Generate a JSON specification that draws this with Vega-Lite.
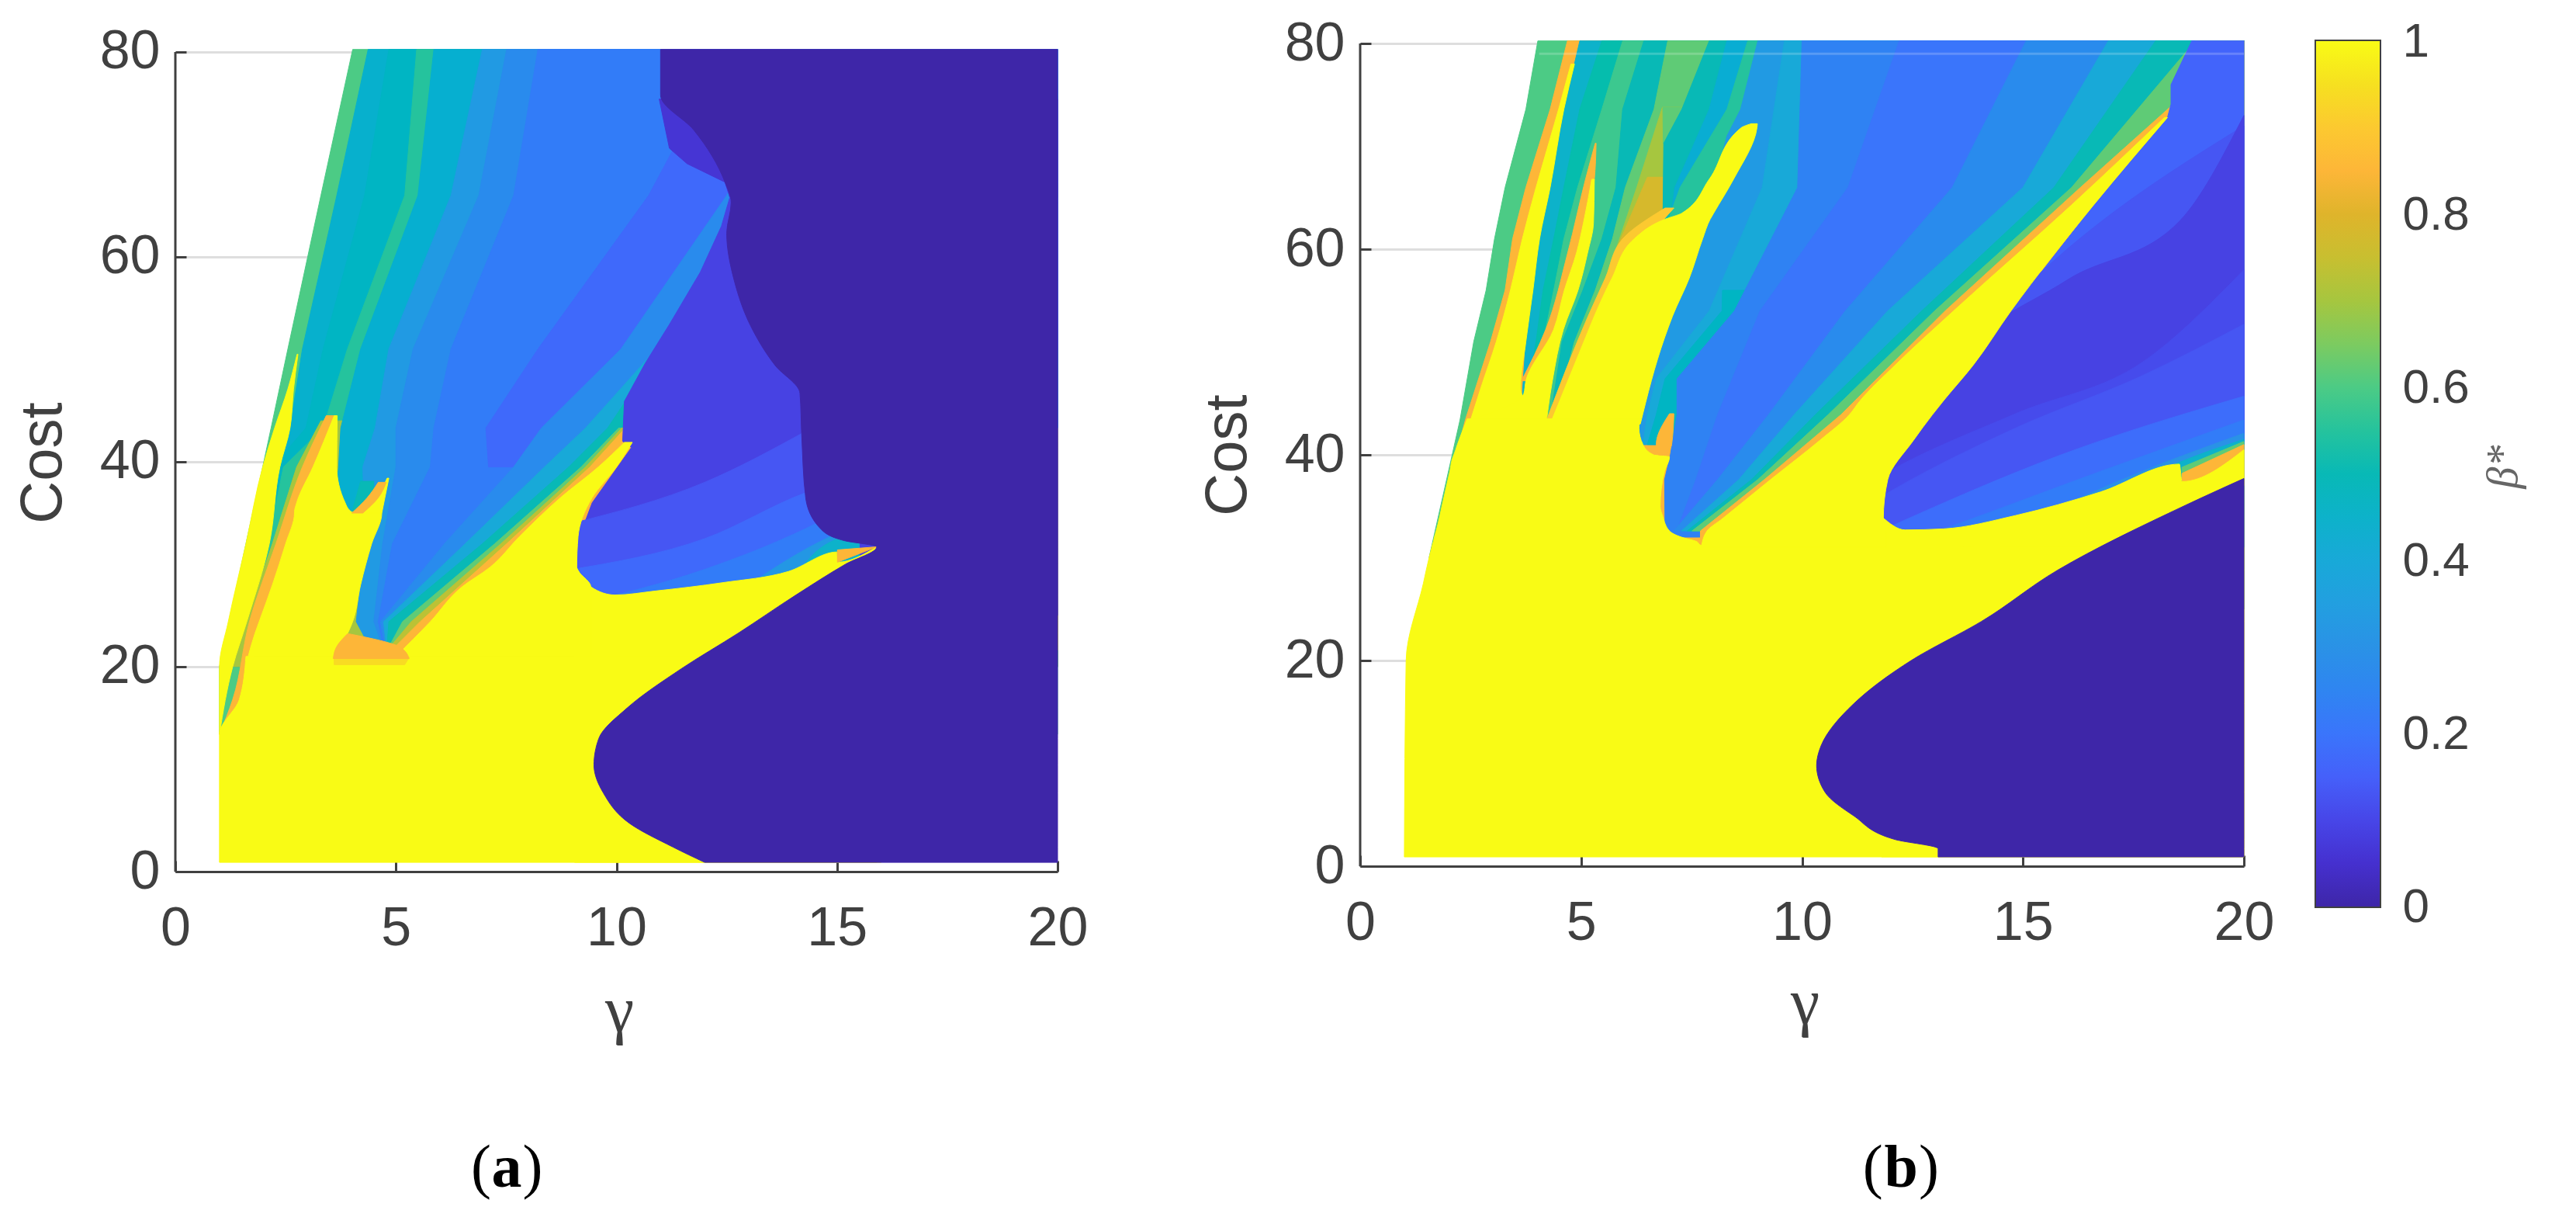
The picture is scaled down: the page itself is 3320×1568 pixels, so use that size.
{"$schema":"https://vega.github.io/schema/vega-lite/v6.json","padding":{"left":17,"top":20,"right":5,"bottom":5},"background":"white","bounds":"flush","spacing":390,
"datasets":{
"a1":[
{"p":1,"b":0.6,"c":80.25,"g":4.02},{"p":1,"b":0.6,"c":66,"g":3.3},{"p":1,"b":0.6,"c":51,"g":2.55},{"p":1,"b":0.6,"c":43.3,"g":2.17},{"p":1,"b":0.6,"c":39.5,"g":1.98},{"p":1,"b":0.6,"c":32,"g":1.6},{"p":1,"b":0.6,"c":24.4,"g":1.22},{"p":1,"b":0.6,"c":20,"g":1},{"p":1,"b":0.6,"c":13.4,"g":1},
{"p":2,"b":0.44,"c":80.25,"g":4.37},{"p":2,"b":0.44,"c":66,"g":3.66},{"p":2,"b":0.44,"c":51,"g":2.88},{"p":2,"b":0.44,"c":43.3,"g":2.6},{"p":2,"b":0.44,"c":39.5,"g":2.0},{"p":2,"b":0.44,"c":32,"g":1.7},{"p":2,"b":0.44,"c":24.4,"g":1.3},{"p":2,"b":0.44,"c":20,"g":1.15},
{"p":3,"b":0.47,"c":80.25,"g":4.84},{"p":3,"b":0.47,"c":66,"g":4.29},{"p":3,"b":0.47,"c":51,"g":3.35},{"p":3,"b":0.47,"c":43.3,"g":2.96},{"p":3,"b":0.47,"c":39.5,"g":2.2},{"p":3,"b":0.47,"c":32,"g":1.9},{"p":3,"b":0.47,"c":24.4,"g":1.4},{"p":3,"b":0.47,"c":20,"g":1.2},
{"p":4,"b":0.55,"c":80.25,"g":5.47},{"p":4,"b":0.55,"c":66,"g":5.2},{"p":4,"b":0.55,"c":51,"g":3.9},{"p":4,"b":0.55,"c":43.3,"g":3.35},{"p":4,"b":0.55,"c":39.5,"g":2.45},{"p":4,"b":0.55,"c":32,"g":2.1},{"p":4,"b":0.55,"c":24.4,"g":1.5},{"p":4,"b":0.55,"c":20,"g":1.25},
{"p":5,"b":0.7,"c":44,"g":3.3},{"p":5,"b":0.7,"c":39.5,"g":2.75},{"p":5,"b":0.7,"c":32,"g":2.2},{"p":5,"b":0.7,"c":24.4,"g":1.6},{"p":5,"b":0.7,"c":20,"g":1.3},
{"p":6,"b":0.43,"c":80.25,"g":5.86},{"p":6,"b":0.43,"c":66,"g":5.5},{"p":6,"b":0.43,"c":51,"g":4.2},{"p":6,"b":0.43,"c":43.3,"g":3.75},{"p":6,"b":0.43,"c":39.5,"g":3.7},{"p":6,"b":0.43,"c":35,"g":3.6},
{"p":7,"b":0.33,"c":80.25,"g":6.96},{"p":7,"b":0.33,"c":66,"g":6.25},{"p":7,"b":0.33,"c":51,"g":4.84},{"p":7,"b":0.33,"c":43.3,"g":4.53},{"p":7,"b":0.33,"c":39.5,"g":4.25},{"p":7,"b":0.33,"c":32,"g":4.3},{"p":7,"b":0.33,"c":24.4,"g":4.1},{"p":7,"b":0.33,"c":22,"g":4.4},
{"p":8,"b":0.27,"c":80.25,"g":7.51},{"p":8,"b":0.27,"c":66,"g":6.88},{"p":8,"b":0.27,"c":51,"g":5.39},{"p":8,"b":0.27,"c":43.3,"g":5.0},{"p":8,"b":0.27,"c":39.5,"g":5.0},{"p":8,"b":0.27,"c":32,"g":4.7},{"p":8,"b":0.27,"c":24.4,"g":4.5},{"p":8,"b":0.27,"c":22,"g":4.7},
{"p":9,"b":0.22,"c":80.25,"g":8.22},{"p":9,"b":0.22,"c":66,"g":7.67},{"p":9,"b":0.22,"c":51,"g":6.25},{"p":9,"b":0.22,"c":43.3,"g":5.86},{"p":9,"b":0.22,"c":39.5,"g":5.78},{"p":9,"b":0.22,"c":32,"g":4.92},{"p":9,"b":0.22,"c":24.4,"g":4.6},{"p":9,"b":0.22,"c":22,"g":4.72},
{"p":10,"b":0.17,"c":80.25,"g":12.5},{"p":10,"b":0.17,"c":66,"g":10.73},{"p":10,"b":0.17,"c":51,"g":8.22},{"p":10,"b":0.17,"c":43.3,"g":7.04},{"p":10,"b":0.17,"c":39.5,"g":7.1},
{"p":11,"b":0.27,"c":80.25,"g":14},{"p":11,"b":0.27,"c":66,"g":12.5},{"p":11,"b":0.27,"c":51,"g":10.1},{"p":11,"b":0.27,"c":43.3,"g":8.3},{"p":11,"b":0.27,"c":39.5,"g":7.67},{"p":11,"b":0.27,"c":32,"g":6.1},{"p":11,"b":0.27,"c":24.4,"g":4.65},{"p":11,"b":0.27,"c":22,"g":4.75},
{"p":12,"b":0.4,"c":51,"g":10.9},{"p":12,"b":0.4,"c":43.3,"g":9.3},{"p":12,"b":0.4,"c":39.5,"g":8.37},{"p":12,"b":0.4,"c":32,"g":6.57},{"p":12,"b":0.4,"c":24.4,"g":4.72},{"p":12,"b":0.4,"c":22,"g":4.78},
{"p":13,"b":0.5,"c":51,"g":11},{"p":13,"b":0.5,"c":43.3,"g":9.8},{"p":13,"b":0.5,"c":39.5,"g":8.92},{"p":13,"b":0.5,"c":32,"g":6.96},{"p":13,"b":0.5,"c":24.4,"g":4.84},{"p":13,"b":0.5,"c":22,"g":4.8},
{"p":14,"b":0.62,"c":43.3,"g":10.05},{"p":14,"b":0.62,"c":39.5,"g":9.2},{"p":14,"b":0.62,"c":32,"g":7.24},{"p":14,"b":0.62,"c":24.4,"g":5.15},{"p":14,"b":0.62,"c":22,"g":4.85},
{"p":15,"b":0.73,"c":43.3,"g":10.12},{"p":15,"b":0.73,"c":39.5,"g":9.3},{"p":15,"b":0.73,"c":32,"g":7.38},{"p":15,"b":0.73,"c":24.4,"g":5.35},{"p":15,"b":0.73,"c":22,"g":4.88},
{"p":16,"b":0.85,"c":43.3,"g":10.2},{"p":16,"b":0.85,"c":39.5,"g":9.4},{"p":16,"b":0.85,"c":32,"g":7.51},{"p":16,"b":0.85,"c":24.4,"g":5.55},{"p":16,"b":0.85,"c":21.6,"g":4.9},
{"p":17,"b":0.06,"c":75.4,"g":10.97},{"p":17,"b":0.06,"c":70.6,"g":11.2},{"p":17,"b":0.06,"c":69.1,"g":11.6},{"p":17,"b":0.06,"c":67.3,"g":12.46},{"p":17,"b":0.06,"c":65.8,"g":12.57},
{"p":18,"b":0.09,"c":65.8,"g":12.57},{"p":18,"b":0.09,"c":63,"g":12.38},{"p":18,"b":0.09,"c":58.5,"g":11.9},{"p":18,"b":0.09,"c":53.4,"g":11.2},{"p":18,"b":0.09,"c":49.6,"g":10.65},{"p":18,"b":0.09,"c":45.9,"g":10.18},{"p":18,"b":0.09,"c":42,"g":10.14},{"p":18,"b":0.09,"c":41.4,"g":10.34},{"p":18,"b":0.09,"c":36,"g":9.45},{"p":18,"b":0.09,"c":32,"g":9.1},{"p":18,"b":0.09,"c":25,"g":9.1}
],
"a2":[
{"p":1,"b":0.13,"g":9,"c":34,"d":25},{"p":1,"b":0.13,"g":12,"c":38,"d":25},{"p":1,"b":0.13,"g":14.3,"c":43,"d":25},
{"p":2,"b":0.17,"g":9,"c":29.5,"d":25},{"p":2,"b":0.17,"g":12,"c":32.5,"d":25},{"p":2,"b":0.17,"g":14.3,"c":37,"d":25},{"p":2,"b":0.17,"g":15,"c":38,"d":25},
{"p":3,"b":0.22,"g":9,"c":26,"d":25},{"p":3,"b":0.22,"g":12,"c":29.5,"d":25},{"p":3,"b":0.22,"g":14.3,"c":33.5,"d":25},{"p":3,"b":0.22,"g":15,"c":35,"d":25},
{"p":4,"b":0.32,"g":13,"c":28,"d":25},{"p":4,"b":0.32,"g":14.3,"c":31.5,"d":25},{"p":4,"b":0.32,"g":15.5,"c":34,"d":25},
{"p":5,"b":0.45,"g":14,"c":28.5,"d":25},{"p":5,"b":0.45,"g":14.6,"c":31.5,"d":25},{"p":5,"b":0.45,"g":15.5,"c":33,"d":25},
{"p":6,"b":1,"g":9.05,"c":30,"d":0.9},{"p":6,"b":1,"g":9.42,"c":27.8,"d":0.9},{"p":6,"b":1,"g":9.97,"c":27,"d":0.9},{"p":6,"b":1,"g":10.9,"c":27.4,"d":0.9},{"p":6,"b":1,"g":12.4,"c":28.2,"d":0.9},{"p":6,"b":1,"g":13.9,"c":29.3,"d":0.9},{"p":6,"b":1,"g":15,"c":31.2,"d":0.9},{"p":6,"b":1,"g":15.01,"c":30.2,"d":0.9},{"p":6,"b":1,"g":15.9,"c":31.7,"d":0.9},
{"p":7,"b":0.85,"g":15.01,"c":31.4,"d":30.2},{"p":7,"b":0.85,"g":15.9,"c":31.7,"d":31.7}
],
"a3":[
{"p":1,"b":1,"c":50.5,"g":2.76,"h":2.78},{"p":1,"b":1,"c":47.1,"g":2.55,"h":2.68},{"p":1,"b":1,"c":43.3,"g":2.25,"h":2.6},{"p":1,"b":1,"c":39.5,"g":1.98,"h":2.37},{"p":1,"b":1,"c":32,"g":1.6,"h":2.13},{"p":1,"b":1,"c":24.4,"g":1.2,"h":1.62},{"p":1,"b":1,"c":20,"g":1,"h":1.3},{"p":1,"b":1,"c":13.4,"g":1,"h":1},
{"p":2,"b":0.85,"c":44.5,"g":3.42,"h":3.65},{"p":2,"b":0.85,"c":39.5,"g":2.88,"h":3.15},{"p":2,"b":0.85,"c":32,"g":2.28,"h":2.55},{"p":2,"b":0.85,"c":24.4,"g":1.68,"h":1.95},{"p":2,"b":0.85,"c":16.8,"g":1.3,"h":1.5},{"p":2,"b":0.85,"c":13.4,"g":1,"h":1.05},
{"p":3,"b":0.5,"c":38.1,"g":4.2,"h":4.5},{"p":3,"b":0.5,"c":35,"g":4,"h":4.5},
{"p":4,"b":1,"c":44.5,"g":3.6,"h":3.67},{"p":4,"b":1,"c":39.5,"g":3.12,"h":3.66},{"p":4,"b":1,"c":36,"g":2.75,"h":3.85},{"p":4,"b":1,"c":35.1,"g":2.7,"h":4},{"p":4,"b":1,"c":35,"g":2.7,"h":4.68},{"p":4,"b":1,"c":32,"g":2.5,"h":4.45},{"p":4,"b":1,"c":28,"g":2.2,"h":4.2},{"p":4,"b":1,"c":24.4,"g":1.9,"h":4.02},{"p":4,"b":1,"c":23.2,"g":1.8,"h":3.9},{"p":4,"b":1,"c":21,"g":1.65,"h":3.6},
{"p":5,"b":1,"c":38.4,"g":4.8,"h":4.84},{"p":5,"b":1,"c":36.5,"g":4.55,"h":4.75},{"p":5,"b":1,"c":35,"g":4.2,"h":4.68},
{"p":6,"b":0.85,"c":38,"g":4.6,"h":4.78},{"p":6,"b":0.85,"c":36.5,"g":4.35,"h":4.6},{"p":6,"b":0.85,"c":35,"g":4,"h":4.25},
{"p":7,"b":1,"c":41.9,"g":10.18,"h":10.36},{"p":7,"b":1,"c":39.5,"g":9.59,"h":10},{"p":7,"b":1,"c":36.5,"g":8.73,"h":9.45},{"p":7,"b":1,"c":32.7,"g":7.8,"h":9.13},{"p":7,"b":1,"c":29.7,"g":7.13,"h":9.1},{"p":7,"b":1,"c":27.8,"g":6.5,"h":9.42},{"p":7,"b":1,"c":24.4,"g":5.78,"h":9.42},{"p":7,"b":1,"c":21,"g":5,"h":9.42},
{"p":8,"b":1,"c":21,"g":1.6,"h":16},{"p":8,"b":1,"c":16.8,"g":1.45,"h":16},{"p":8,"b":1,"c":13.4,"g":1,"h":16},{"p":8,"b":1,"c":0.9,"g":1,"h":16},
{"p":11,"b":0.94,"c":20.9,"g":3.6,"h":5.3},{"p":11,"b":0.94,"c":20.2,"g":3.6,"h":5.2},
{"p":9,"b":0.85,"c":23.2,"g":3.9,"h":3.95},{"p":9,"b":0.85,"c":21.9,"g":3.65,"h":5.1},{"p":9,"b":0.85,"c":20.8,"g":3.58,"h":5.3},
{"p":10,"b":0,"c":80.25,"g":11,"h":20},{"p":10,"b":0,"c":75.8,"g":11,"h":20},{"p":10,"b":0,"c":72.4,"g":11.75,"h":20},{"p":10,"b":0,"c":67.3,"g":12.46,"h":20},{"p":10,"b":0,"c":65.3,"g":12.6,"h":20},{"p":10,"b":0,"c":62.3,"g":12.5,"h":20},{"p":10,"b":0,"c":57.7,"g":12.67,"h":20},{"p":10,"b":0,"c":53.2,"g":13.05,"h":20},{"p":10,"b":0,"c":49.4,"g":13.6,"h":20},{"p":10,"b":0,"c":46.7,"g":14.16,"h":20},{"p":10,"b":0,"c":42.6,"g":14.2,"h":20},{"p":10,"b":0,"c":36.5,"g":14.29,"h":20},{"p":10,"b":0,"c":33.5,"g":14.62,"h":20},{"p":10,"b":0,"c":32.3,"g":15.17,"h":20},{"p":10,"b":0,"c":31.7,"g":15.9,"h":20},{"p":10,"b":0,"c":30,"g":15.19,"h":20},{"p":10,"b":0,"c":27,"g":14.07,"h":20},{"p":10,"b":0,"c":23.3,"g":12.77,"h":20},{"p":10,"b":0,"c":19.8,"g":11.47,"h":20},{"p":10,"b":0,"c":16,"g":10.25,"h":20},{"p":10,"b":0,"c":13,"g":9.6,"h":20},{"p":10,"b":0,"c":10.4,"g":9.49,"h":20},{"p":10,"b":0,"c":7.7,"g":9.7,"h":20},{"p":10,"b":0,"c":4.7,"g":10.3,"h":20},{"p":10,"b":0,"c":2.4,"g":11.28,"h":20},{"p":10,"b":0,"c":0.9,"g":12,"h":20}
],
"b1":[
{"p":1,"b":0.6,"c":80.25,"g":4.02},{"p":1,"b":0.6,"c":73.6,"g":3.75},{"p":1,"b":0.6,"c":66,"g":3.28},{"p":1,"b":0.6,"c":61,"g":3.04},{"p":1,"b":0.6,"c":56,"g":2.85},{"p":1,"b":0.6,"c":51,"g":2.57},{"p":1,"b":0.6,"c":43.4,"g":2.26},{"p":1,"b":0.6,"c":30,"g":1.56},
{"p":2,"b":0.85,"c":80.25,"g":4.69},{"p":2,"b":0.85,"c":73.6,"g":4.3},{"p":2,"b":0.85,"c":66,"g":3.75},{"p":2,"b":0.85,"c":61,"g":3.45},{"p":2,"b":0.85,"c":56,"g":3.28},{"p":2,"b":0.85,"c":51,"g":2.95},{"p":2,"b":0.85,"c":43.4,"g":2.38},{"p":2,"b":0.85,"c":30,"g":1.57},
{"p":3,"b":0.45,"c":80.25,"g":4.97},{"p":3,"b":0.45,"c":73.6,"g":4.61},{"p":3,"b":0.45,"c":66,"g":4.3},{"p":3,"b":0.45,"c":61,"g":4.06},{"p":3,"b":0.45,"c":56,"g":3.91},{"p":3,"b":0.45,"c":51,"g":3.75},{"p":3,"b":0.45,"c":43.4,"g":3.63},
{"p":4,"b":0.52,"c":80.25,"g":5.47},{"p":4,"b":0.52,"c":73.6,"g":4.97},{"p":4,"b":0.52,"c":66,"g":4.61},{"p":4,"b":0.52,"c":61,"g":4.38},{"p":4,"b":0.52,"c":56,"g":4.14},{"p":4,"b":0.52,"c":51,"g":3.98},{"p":4,"b":0.52,"c":43.4,"g":3.71},
{"p":5,"b":0.58,"c":80.25,"g":5.94},{"p":5,"b":0.58,"c":73.6,"g":5.47},{"p":5,"b":0.58,"c":66,"g":4.92},{"p":5,"b":0.58,"c":61,"g":4.61},{"p":5,"b":0.58,"c":56,"g":4.38},{"p":5,"b":0.58,"c":51,"g":4.14},{"p":5,"b":0.58,"c":43.4,"g":3.83},
{"p":6,"b":0.5,"c":80.25,"g":6.42},{"p":6,"b":0.5,"c":73.6,"g":5.94},{"p":6,"b":0.5,"c":66,"g":5.79},{"p":6,"b":0.5,"c":61,"g":5.47},{"p":6,"b":0.5,"c":56,"g":5.04},{"p":6,"b":0.5,"c":51,"g":4.57},{"p":6,"b":0.5,"c":43.4,"g":4.3},
{"p":7,"b":0.62,"c":80.25,"g":6.96},{"p":7,"b":0.62,"c":73.6,"g":6.65},{"p":7,"b":0.62,"c":66,"g":6},{"p":7,"b":0.62,"c":61,"g":5.71},{"p":7,"b":0.62,"c":56,"g":5.32},{"p":7,"b":0.62,"c":51,"g":4.85},{"p":7,"b":0.62,"c":43.4,"g":4.38},
{"p":8,"b":0.7,"c":73.8,"g":6.84},{"p":8,"b":0.7,"c":66,"g":6.26},{"p":8,"b":0.7,"c":61,"g":5.87},{"p":8,"b":0.7,"c":56,"g":5.47},{"p":8,"b":0.7,"c":51,"g":4.97},{"p":8,"b":0.7,"c":43.4,"g":4.4},
{"p":24,"b":0.78,"c":67,"g":6.5},{"p":24,"b":0.78,"c":66,"g":6.4},{"p":24,"b":0.78,"c":61,"g":5.9},{"p":24,"b":0.78,"c":56,"g":5.49},{"p":24,"b":0.78,"c":51,"g":5},{"p":24,"b":0.78,"c":43.4,"g":4.41},
{"p":25,"b":0.62,"c":73.8,"g":6.85},{"p":25,"b":0.62,"c":70.3,"g":6.86},
{"p":9,"b":0.85,"c":63.5,"g":6.73},{"p":9,"b":0.85,"c":61,"g":5.94},{"p":9,"b":0.85,"c":56,"g":5.51},{"p":9,"b":0.85,"c":51,"g":5.04},{"p":9,"b":0.85,"c":43.4,"g":4.42},
{"p":10,"b":0.5,"c":80.25,"g":7.9},{"p":10,"b":0.5,"c":73.6,"g":7.28},{"p":10,"b":0.5,"c":70.3,"g":6.87},{"p":10,"b":0.5,"c":62,"g":6.85},
{"p":11,"b":0.42,"c":80.25,"g":8.3},{"p":11,"b":0.42,"c":73.6,"g":7.9},{"p":11,"b":0.42,"c":66,"g":7.12},{"p":11,"b":0.42,"c":62,"g":7},
{"p":12,"b":0.55,"c":80.25,"g":8.77},{"p":12,"b":0.55,"c":73.6,"g":8.3},{"p":12,"b":0.55,"c":66,"g":7.24},{"p":12,"b":0.55,"c":62,"g":6.9},
{"p":13,"b":0.33,"c":80.25,"g":9},{"p":13,"b":0.33,"c":73.6,"g":8.61},{"p":13,"b":0.33,"c":71,"g":8.3},{"p":13,"b":0.33,"c":66,"g":8},{"p":13,"b":0.33,"c":61,"g":7.5},{"p":13,"b":0.33,"c":56,"g":7.1},{"p":13,"b":0.33,"c":51,"g":6.7},{"p":13,"b":0.33,"c":47.4,"g":6.45},{"p":13,"b":0.33,"c":43.9,"g":6.3},{"p":13,"b":0.33,"c":41,"g":6.3},
{"p":14,"b":0.4,"c":80.25,"g":9.6},{"p":14,"b":0.4,"c":66,"g":9.1},{"p":14,"b":0.4,"c":54,"g":7.9},{"p":14,"b":0.4,"c":47.4,"g":6.7},{"p":14,"b":0.4,"c":43.9,"g":6.5},{"p":14,"b":0.4,"c":41,"g":6.4},
{"p":15,"b":0.47,"c":56,"g":8.2},{"p":15,"b":0.47,"c":54,"g":8.19},{"p":15,"b":0.47,"c":47.4,"g":6.9},{"p":15,"b":0.47,"c":43.9,"g":6.7},{"p":15,"b":0.47,"c":41,"g":6.5},
{"p":16,"b":0.24,"c":80.25,"g":10},{"p":16,"b":0.24,"c":66,"g":9.9},{"p":16,"b":0.24,"c":54,"g":8.47},{"p":16,"b":0.24,"c":47.4,"g":7.17},{"p":16,"b":0.24,"c":43.9,"g":7.17},{"p":16,"b":0.24,"c":40,"g":7.02},{"p":16,"b":0.24,"c":37.6,"g":6.89},{"p":16,"b":0.24,"c":32,"g":6.9},
{"p":17,"b":0.2,"c":80.25,"g":12.2},{"p":17,"b":0.2,"c":66,"g":11.04},{"p":17,"b":0.2,"c":54,"g":9.05},{"p":17,"b":0.2,"c":43.9,"g":8.09},{"p":17,"b":0.2,"c":37.6,"g":7.6},{"p":17,"b":0.2,"c":33,"g":7.2},
{"p":18,"b":0.27,"c":80.25,"g":15.07},{"p":18,"b":0.27,"c":66,"g":13.4},{"p":18,"b":0.27,"c":54,"g":10.98},{"p":18,"b":0.27,"c":43.9,"g":9.24},{"p":18,"b":0.27,"c":37.6,"g":8.09},{"p":18,"b":0.27,"c":32.6,"g":7.1},
{"p":19,"b":0.4,"c":80.25,"g":16.93},{"p":19,"b":0.4,"c":66,"g":15},{"p":19,"b":0.4,"c":54,"g":11.94},{"p":19,"b":0.4,"c":43.9,"g":9.82},{"p":19,"b":0.4,"c":37.6,"g":8.57},{"p":19,"b":0.4,"c":32.6,"g":7.27},
{"p":20,"b":0.5,"c":80.25,"g":18},{"p":20,"b":0.5,"c":66,"g":15.7},{"p":20,"b":0.5,"c":54,"g":12.71},{"p":20,"b":0.5,"c":43.9,"g":10.3},{"p":20,"b":0.5,"c":37.6,"g":8.86},{"p":20,"b":0.5,"c":32.6,"g":7.4},
{"p":21,"b":0.62,"c":80.25,"g":18.9},{"p":21,"b":0.62,"c":66,"g":16.1},{"p":21,"b":0.62,"c":54,"g":13},{"p":21,"b":0.62,"c":43.9,"g":10.59},{"p":21,"b":0.62,"c":37.6,"g":9},{"p":21,"b":0.62,"c":32.6,"g":7.51},
{"p":22,"b":0.85,"c":80.25,"g":20},{"p":22,"b":0.85,"c":66,"g":16.3},{"p":22,"b":0.85,"c":54,"g":13.24},{"p":22,"b":0.85,"c":43.9,"g":10.88},{"p":22,"b":0.85,"c":37.6,"g":9.15},{"p":22,"b":0.85,"c":32.6,"g":7.7},{"p":22,"b":0.85,"c":31,"g":7.7},
{"p":23,"b":0.16,"c":80.25,"g":18.82},{"p":23,"b":0.16,"c":76,"g":18.35},{"p":23,"b":0.16,"c":74.1,"g":18.35},{"p":23,"b":0.16,"c":72.8,"g":18.27},{"p":23,"b":0.16,"c":64.3,"g":16.6},{"p":23,"b":0.16,"c":54,"g":14.73},{"p":23,"b":0.16,"c":48.7,"g":13.87},{"p":23,"b":0.16,"c":45.2,"g":13.19},{"p":23,"b":0.16,"c":41.4,"g":12.52},{"p":23,"b":0.16,"c":37.4,"g":11.94},{"p":23,"b":0.16,"c":33.8,"g":11.84},{"p":23,"b":0.16,"c":30,"g":11.84}
],
"b2":[
{"p":1,"b":0.13,"g":14,"c":52,"d":25},{"p":1,"b":0.13,"g":16,"c":60,"d":25},{"p":1,"b":0.13,"g":20,"c":72,"d":25},
{"p":2,"b":0.09,"g":12,"c":40,"d":25},{"p":2,"b":0.09,"g":13,"c":47,"d":25},{"p":2,"b":0.09,"g":16,"c":57,"d":25},{"p":2,"b":0.09,"g":18.56,"c":62.8,"d":25},{"p":2,"b":0.09,"g":20,"c":73,"d":25},
{"p":3,"b":0.11,"g":10,"c":33,"d":25},{"p":3,"b":0.11,"g":11.8,"c":38,"d":25},{"p":3,"b":0.11,"g":14.83,"c":44,"d":25},{"p":3,"b":0.11,"g":17.7,"c":49,"d":25},{"p":3,"b":0.11,"g":20,"c":58,"d":25},
{"p":4,"b":0.13,"g":10,"c":31,"d":25},{"p":4,"b":0.13,"g":11.94,"c":36.3,"d":25},{"p":4,"b":0.13,"g":14.83,"c":42.6,"d":25},{"p":4,"b":0.13,"g":17.7,"c":47.7,"d":25},{"p":4,"b":0.13,"g":20,"c":52.7,"d":25},
{"p":5,"b":0.18,"g":10,"c":29,"d":25},{"p":5,"b":0.18,"g":12.4,"c":33.8,"d":25},{"p":5,"b":0.18,"g":15.8,"c":39.9,"d":25},{"p":5,"b":0.18,"g":20,"c":45.7,"d":25},
{"p":6,"b":0.22,"g":12,"c":31,"d":25},{"p":6,"b":0.22,"g":13.4,"c":33.1,"d":25},{"p":6,"b":0.22,"g":16.76,"c":38.4,"d":25},{"p":6,"b":0.22,"g":18.7,"c":41.4,"d":25},{"p":6,"b":0.22,"g":20,"c":43.4,"d":25},
{"p":7,"b":0.3,"g":14.83,"c":33,"d":25},{"p":7,"b":0.3,"g":17.7,"c":38.4,"d":25},{"p":7,"b":0.3,"g":20,"c":42.1,"d":25},
{"p":8,"b":0.45,"g":17,"c":36,"d":25},{"p":8,"b":0.45,"g":18.5,"c":39.2,"d":25},{"p":8,"b":0.45,"g":20,"c":41.5,"d":25},
{"p":9,"b":0.62,"g":18.6,"c":38.8,"d":37},{"p":9,"b":0.62,"g":20,"c":41.3,"d":37},
{"p":10,"b":0.85,"g":18.6,"c":38.2,"d":37},{"p":10,"b":0.85,"g":20,"c":41,"d":37},
{"p":11,"b":1,"g":11.8,"c":34,"d":0.9},{"p":11,"b":1,"g":12.33,"c":32.7,"d":0.9},{"p":11,"b":1,"g":13.2,"c":32.8,"d":0.9},{"p":11,"b":1,"g":14.83,"c":34.1,"d":0.9},{"p":11,"b":1,"g":16.76,"c":36.4,"d":0.9},{"p":11,"b":1,"g":18.54,"c":39.1,"d":0.9},{"p":11,"b":1,"g":18.6,"c":37.4,"d":0.9},{"p":11,"b":1,"g":20,"c":40.5,"d":0.9}
],
"b3":[
{"p":1,"b":1,"c":78,"g":4.77,"h":4.85},{"p":1,"b":1,"c":73.6,"g":4.49,"h":4.61},{"p":1,"b":1,"c":66,"g":3.98,"h":4.3},{"p":1,"b":1,"c":61,"g":3.67,"h":4.06},{"p":1,"b":1,"c":56,"g":3.4,"h":3.91},{"p":1,"b":1,"c":51,"g":3.08,"h":3.75},{"p":1,"b":1,"c":46.5,"g":2.73,"h":3.63},{"p":1,"b":1,"c":43.4,"g":2.5,"h":4.22},
{"p":2,"b":0.85,"c":70.3,"g":5.32,"h":5.34},{"p":2,"b":0.85,"c":66.8,"g":5.1,"h":5.3},{"p":2,"b":0.85,"c":59.7,"g":4.7,"h":4.9},{"p":2,"b":0.85,"c":52.2,"g":4.2,"h":4.4},{"p":2,"b":0.85,"c":47.2,"g":3.65,"h":3.8},
{"p":3,"b":1,"c":66.8,"g":5.24,"h":5.3},{"p":3,"b":1,"c":62.5,"g":5.05,"h":5.28},{"p":3,"b":1,"c":59.7,"g":4.9,"h":5.15},{"p":3,"b":1,"c":56,"g":4.62,"h":4.93},{"p":3,"b":1,"c":52.2,"g":4.38,"h":4.6},{"p":3,"b":1,"c":47.2,"g":3.75,"h":4.35},{"p":3,"b":1,"c":45.9,"g":3.7,"h":4.3},{"p":3,"b":1,"c":43.4,"g":2.5,"h":4.22},
{"p":4,"b":0.9,"c":64,"g":6.9,"h":7.1},{"p":4,"b":0.9,"c":61,"g":5.94,"h":6.5},{"p":4,"b":0.9,"c":57.2,"g":5.55,"h":5.9},{"p":4,"b":0.9,"c":53.5,"g":5.16,"h":5.4},{"p":4,"b":0.9,"c":43.4,"g":4.22,"h":4.4},
{"p":5,"b":1,"c":72.2,"g":8.85,"h":8.99},{"p":5,"b":1,"c":71.8,"g":8.62,"h":8.98},{"p":5,"b":1,"c":66.8,"g":7.9,"h":8.45},{"p":5,"b":1,"c":63.5,"g":7.28,"h":8},{"p":5,"b":1,"c":62.9,"g":6.89,"h":7.92},{"p":5,"b":1,"c":61,"g":6.2,"h":7.75},{"p":5,"b":1,"c":57.2,"g":5.7,"h":7.45},{"p":5,"b":1,"c":53.5,"g":5.3,"h":7.07},{"p":5,"b":1,"c":51.4,"g":5.1,"h":6.89},{"p":5,"b":1,"c":43,"g":4.3,"h":6.34},
{"p":6,"b":1,"c":43.5,"g":2.42,"h":6.34},{"p":6,"b":1,"c":42.6,"g":2.34,"h":6.31},{"p":6,"b":1,"c":41,"g":2.2,"h":6.4},{"p":6,"b":1,"c":40,"g":2.12,"h":6.64},{"p":6,"b":1,"c":39.8,"g":2.1,"h":7},{"p":6,"b":1,"c":38.4,"g":2.03,"h":6.89},{"p":6,"b":1,"c":35,"g":1.85,"h":6.79},{"p":6,"b":1,"c":34,"g":1.8,"h":6.85},{"p":6,"b":1,"c":32.6,"g":1.72,"h":7},{"p":6,"b":1,"c":32,"g":1.68,"h":7.27},{"p":6,"b":1,"c":31.6,"g":1.66,"h":7.6},{"p":6,"b":1,"c":31.2,"g":1.63,"h":7.72},{"p":6,"b":1,"c":31,"g":1.62,"h":20},{"p":6,"b":1,"c":30,"g":1.56,"h":20},{"p":6,"b":1,"c":27.5,"g":1.43,"h":20},{"p":6,"b":1,"c":20,"g":1.04,"h":20},{"p":6,"b":1,"c":0.9,"g":1,"h":20},
{"p":7,"b":1,"c":72.8,"g":18.2,"h":18.27},{"p":7,"b":1,"c":64.3,"g":16.1,"h":16.6},{"p":7,"b":1,"c":54,"g":13.43,"h":14.73},{"p":7,"b":1,"c":48.7,"g":12.1,"h":13.87},{"p":7,"b":1,"c":45.2,"g":11.3,"h":13.19},{"p":7,"b":1,"c":43.9,"g":11.07,"h":12.95},{"p":7,"b":1,"c":41.4,"g":10.4,"h":12.52},{"p":7,"b":1,"c":37.6,"g":9.29,"h":11.94},{"p":7,"b":1,"c":33.8,"g":8.2,"h":11.84},{"p":7,"b":1,"c":32.6,"g":7.85,"h":11.9},{"p":7,"b":1,"c":31,"g":7.72,"h":11.9},
{"p":8,"b":0.85,"c":44,"g":7,"h":7.1},{"p":8,"b":0.85,"c":41,"g":6.7,"h":7.05},{"p":8,"b":0.85,"c":40,"g":6.75,"h":6.9},
{"p":9,"b":0,"c":37.7,"g":20,"h":20},{"p":9,"b":0,"c":35.1,"g":18.68,"h":20},{"p":9,"b":0,"c":28.8,"g":15.79,"h":20},{"p":9,"b":0,"c":23.8,"g":14.06,"h":20},{"p":9,"b":0,"c":20,"g":12.47,"h":20},{"p":9,"b":0,"c":15.8,"g":11.17,"h":20},{"p":9,"b":0,"c":11.7,"g":10.43,"h":20},{"p":9,"b":0,"c":9.8,"g":10.33,"h":20},{"p":9,"b":0,"c":7.2,"g":10.52,"h":20},{"p":9,"b":0,"c":4.9,"g":11.17,"h":20},{"p":9,"b":0,"c":2.6,"g":12.1,"h":20},{"p":9,"b":0,"c":1.7,"g":13.08,"h":20},{"p":9,"b":0,"c":0.9,"g":13.08,"h":20}
]
},
"hconcat":[
{"width":1137,"height":1070,"view":{"stroke":null},
"layer":[
{"data":{"name":"a1"},"mark":{"type":"area","orient":"horizontal","strokeWidth":1},"encoding":{
"x":{"field":"g","type":"quantitative","scale":{"domain":[0,20],"nice":false},"axis":{"values":[0,5,10,15,20],"format":"~g","title":"γ","titleFont":"Liberation Serif","titleFontSize":84,"titleFontWeight":"normal","titleColor":"#404040","titleX":572,"titleY":180,"titleBaseline":"middle","labelFont":"Liberation Sans","labelFontSize":70,"labelColor":"#404040","labelPadding":53,"tickSize":-14,"tickWidth":3,"tickColor":"#404040","domainWidth":3,"domainColor":"#404040","grid":false,"labelFlush":false}},
"x2":{"datum":20},
"y":{"field":"c","type":"quantitative","scale":{"domain":[0,81.06],"nice":false},"axis":{"values":[0,20,40,60,80],"title":"Cost","titleFont":"Liberation Sans","titleFontSize":76,"titleFontWeight":"normal","titleColor":"#404040","titleX":-171,"titleY":543,"titleBaseline":"middle","labelFont":"Liberation Sans","labelFontSize":70,"labelColor":"#404040","labelPadding":34,"tickSize":-14,"tickWidth":3,"tickColor":"#404040","domain":false,"grid":true,"gridColor":"#dedede","gridWidth":3,"labelFlush":false}},
"detail":{"field":"p"},
"fill":{"field":"b","type":"quantitative","scale":{"domain":[0,1]},"legend":null},
"stroke":{"field":"b","type":"quantitative","scale":{"domain":[0,1]},"legend":null}}},
{"data":{"name":"a2"},"mark":{"type":"area","orient":"vertical","strokeWidth":1,"interpolate":"monotone"},"encoding":{
"x":{"field":"g","type":"quantitative","scale":{"domain":[0,20],"nice":false}},
"y":{"field":"c","type":"quantitative","scale":{"domain":[0,81.06],"nice":false}},
"y2":{"field":"d"},
"detail":{"field":"p"},
"fill":{"field":"b","type":"quantitative","scale":{"domain":[0,1]},"legend":null},
"stroke":{"field":"b","type":"quantitative","scale":{"domain":[0,1]},"legend":null}}},
{"data":{"name":"a3"},"mark":{"type":"area","orient":"horizontal","strokeWidth":1,"interpolate":"monotone"},"encoding":{
"x":{"field":"g","type":"quantitative","scale":{"domain":[0,20],"nice":false}},
"x2":{"field":"h"},
"y":{"field":"c","type":"quantitative","scale":{"domain":[0,81.06],"nice":false}},
"detail":{"field":"p"},
"fill":{"field":"b","type":"quantitative","scale":{"domain":[0,1]},"legend":null},
"stroke":{"field":"b","type":"quantitative","scale":{"domain":[0,1]},"legend":null}}},
{"data":{"values":[{"g":0,"c":0,"d":80}]},"mark":{"type":"rule","color":"#404040","strokeWidth":3},"encoding":{
"x":{"field":"g","type":"quantitative","scale":{"domain":[0,20],"nice":false}},
"y":{"field":"c","type":"quantitative","scale":{"domain":[0,81.06],"nice":false}},
"y2":{"field":"d"}}},
{"data":{"values":[{"g":6.93,"c":-29,"t":"("},{"g":8.1,"c":-29,"t":")"}]},"mark":{"type":"text","font":"Liberation Serif","fontSize":78,"color":"black"},"encoding":{
"x":{"field":"g","type":"quantitative","scale":{"domain":[0,20],"nice":false}},
"y":{"field":"c","type":"quantitative","scale":{"domain":[0,81.06],"nice":false}},
"text":{"field":"t"}}},
{"data":{"values":[{"g":7.51,"c":-29,"t":"a"}]},"mark":{"type":"text","font":"Liberation Serif","fontSize":78,"fontWeight":"bold","color":"black"},"encoding":{
"x":{"field":"g","type":"quantitative","scale":{"domain":[0,20],"nice":false}},
"y":{"field":"c","type":"quantitative","scale":{"domain":[0,81.06],"nice":false}},
"text":{"field":"t"}}}
]},
{"bounds":"flush","spacing":93,"hconcat":[
{"width":1139,"height":1063,"view":{"stroke":null},
"layer":[
{"data":{"name":"b1"},"mark":{"type":"area","orient":"horizontal","strokeWidth":1},"encoding":{
"x":{"field":"g","type":"quantitative","scale":{"domain":[0,20],"nice":false},"axis":{"values":[0,5,10,15,20],"format":"~g","title":"γ","titleFont":"Liberation Serif","titleFontSize":84,"titleFontWeight":"normal","titleColor":"#404040","titleX":573,"titleY":177,"titleBaseline":"middle","labelFont":"Liberation Sans","labelFontSize":70,"labelColor":"#404040","labelPadding":53,"tickSize":-14,"tickWidth":3,"tickColor":"#404040","domainWidth":3,"domainColor":"#404040","grid":false,"labelFlush":false}},
"x2":{"datum":20},
"y":{"field":"c","type":"quantitative","scale":{"domain":[0,80.23],"nice":false},"axis":{"values":[0,20,40,60,80],"title":"Cost","titleFont":"Liberation Sans","titleFontSize":76,"titleFontWeight":"normal","titleColor":"#404040","titleX":-171,"titleY":533,"titleBaseline":"middle","labelFont":"Liberation Sans","labelFontSize":70,"labelColor":"#404040","labelPadding":34,"tickSize":-14,"tickWidth":3,"tickColor":"#404040","domain":false,"grid":true,"gridColor":"#dedede","gridWidth":3,"labelFlush":false}},
"detail":{"field":"p"},
"fill":{"field":"b","type":"quantitative","scale":{"domain":[0,1]},"legend":null},
"stroke":{"field":"b","type":"quantitative","scale":{"domain":[0,1]},"legend":null}}},
{"data":{"name":"b2"},"mark":{"type":"area","orient":"vertical","strokeWidth":1,"interpolate":"monotone"},"encoding":{
"x":{"field":"g","type":"quantitative","scale":{"domain":[0,20],"nice":false}},
"y":{"field":"c","type":"quantitative","scale":{"domain":[0,80.23],"nice":false}},
"y2":{"field":"d"},
"detail":{"field":"p"},
"fill":{"field":"b","type":"quantitative","scale":{"domain":[0,1]},"legend":null},
"stroke":{"field":"b","type":"quantitative","scale":{"domain":[0,1]},"legend":null}}},
{"data":{"name":"b3"},"mark":{"type":"area","orient":"horizontal","strokeWidth":1,"interpolate":"monotone"},"encoding":{
"x":{"field":"g","type":"quantitative","scale":{"domain":[0,20],"nice":false}},
"x2":{"field":"h"},
"y":{"field":"c","type":"quantitative","scale":{"domain":[0,80.23],"nice":false}},
"detail":{"field":"p"},
"fill":{"field":"b","type":"quantitative","scale":{"domain":[0,1]},"legend":null},
"stroke":{"field":"b","type":"quantitative","scale":{"domain":[0,1]},"legend":null}}},
{"data":{"values":[{"g":0,"c":0,"d":80}]},"mark":{"type":"rule","color":"#404040","strokeWidth":3},"encoding":{
"x":{"field":"g","type":"quantitative","scale":{"domain":[0,20],"nice":false}},
"y":{"field":"c","type":"quantitative","scale":{"domain":[0,80.23],"nice":false}},
"y2":{"field":"d"}}},
{"data":{"values":[{"g":4.05,"h":20,"c":79}]},"mark":{"type":"rule","color":"white","opacity":0.2,"strokeWidth":3},"encoding":{
"x":{"field":"g","type":"quantitative","scale":{"domain":[0,20],"nice":false}},
"x2":{"field":"h"},
"y":{"field":"c","type":"quantitative","scale":{"domain":[0,80.23],"nice":false}}}},
{"data":{"values":[{"g":11.6,"c":-29.4,"t":"("},{"g":12.87,"c":-29.4,"t":")"}]},"mark":{"type":"text","font":"Liberation Serif","fontSize":78,"color":"black"},"encoding":{
"x":{"field":"g","type":"quantitative","scale":{"domain":[0,20],"nice":false}},
"y":{"field":"c","type":"quantitative","scale":{"domain":[0,80.23],"nice":false}},
"text":{"field":"t"}}},
{"data":{"values":[{"g":12.24,"c":-29.4,"t":"b"}]},"mark":{"type":"text","font":"Liberation Serif","fontSize":78,"fontWeight":"bold","color":"black"},"encoding":{
"x":{"field":"g","type":"quantitative","scale":{"domain":[0,20],"nice":false}},
"y":{"field":"c","type":"quantitative","scale":{"domain":[0,80.23],"nice":false}},
"text":{"field":"t"}}}
]},
{"width":82,"height":1115,"view":{"stroke":"#404040","strokeWidth":4},
"data":{"values":[{"y1":0,"y2":1}]},"mark":{"type":"rect","color":{"x1":0,"y1":1,"x2":0,"y2":0,"gradient":"linear","stops":[{"offset":0,"color":"#3e26a8"},{"offset":0.05,"color":"#4530cf"},{"offset":0.1,"color":"#4746e8"},{"offset":0.15,"color":"#4560fa"},{"offset":0.2,"color":"#3a75fb"},{"offset":0.25,"color":"#2f85f1"},{"offset":0.3,"color":"#2a92e6"},{"offset":0.35,"color":"#229fe0"},{"offset":0.4,"color":"#18a9d8"},{"offset":0.45,"color":"#0db2ca"},{"offset":0.5,"color":"#08b9b6"},{"offset":0.55,"color":"#25c39d"},{"offset":0.6,"color":"#4ccb85"},{"offset":0.65,"color":"#7ccb60"},{"offset":0.7,"color":"#a6c63f"},{"offset":0.75,"color":"#c8bf30"},{"offset":0.8,"color":"#dfb42b"},{"offset":0.85,"color":"#fdb638"},{"offset":0.9,"color":"#fcc930"},{"offset":0.95,"color":"#f6e020"},{"offset":1,"color":"#f9fb15"}]}},"encoding":{
"y":{"field":"y1","type":"quantitative","scale":{"domain":[0,1],"nice":false},"axis":{"orient":"right","values":[0,0.2,0.4,0.6,0.8,1],"format":"~g","title":"β*","titleFont":"Liberation Serif","titleFontStyle":"italic","titleFontSize":56,"titleFontWeight":"normal","titleColor":"#666666","titleAngle":270,"titleX":159,"titleY":548,"titleBaseline":"middle","labelFont":"Liberation Sans","labelFontSize":62,"labelColor":"#404040","labelPadding":41,"tickSize":-12,"tickWidth":3,"tickColor":"#404040","domain":false,"grid":false,"labelFlush":false}},
"y2":{"field":"y2"}}}
]}
],
"config":{"range":{"ramp":["#3e26a8","#4530cf","#4746e8","#4560fa","#3a75fb","#2f85f1","#2a92e6","#229fe0","#18a9d8","#0db2ca","#08b9b6","#25c39d","#4ccb85","#7ccb60","#a6c63f","#c8bf30","#dfb42b","#fdb638","#fcc930","#f6e020","#f9fb15"]}}
}
